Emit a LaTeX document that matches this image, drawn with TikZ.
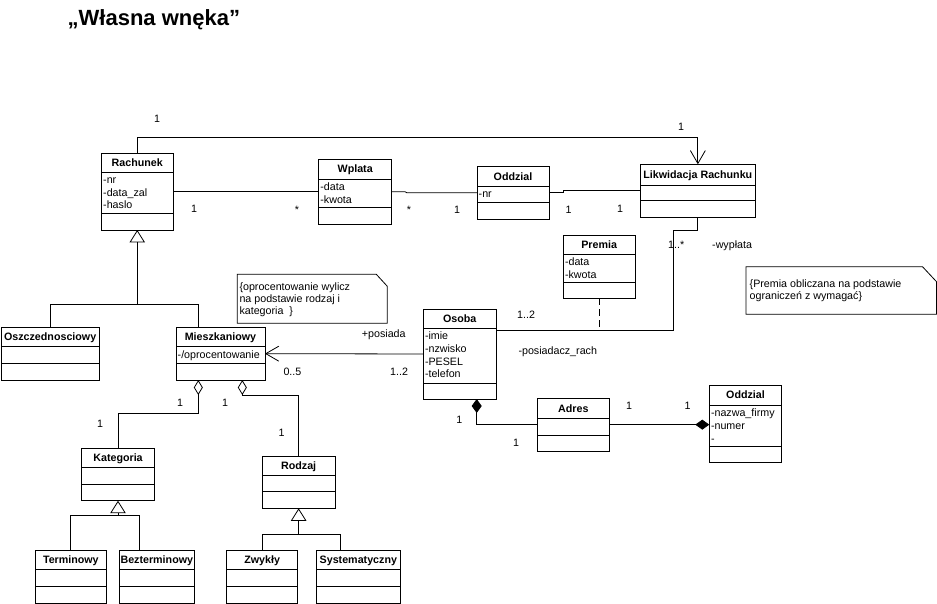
\documentclass[tikz,border=0pt]{standalone}
\usepackage{fontspec}
\setmainfont{Liberation Sans}
\usetikzlibrary{arrows.meta}
\tikzset{
  clsbox/.style={draw, line width=0.8pt, inner sep=0pt, outer sep=0pt},
  sepline/.style={line width=0.8pt},
  clsname/.style={font=\fontsize{10.7}{12.8}\selectfont\bfseries, inner sep=0pt, text height=7.6pt, text depth=0pt},
  attr/.style={font=\fontsize{10.7}{12.8}\selectfont, inner sep=0pt, anchor=base west},
  lab/.style={font=\fontsize{10.7}{12.8}\selectfont, inner sep=0pt, anchor=base},
  labw/.style={font=\fontsize{10.7}{12.8}\selectfont, inner sep=0pt, anchor=base west},
  notebox/.style={inner sep=0pt, outer sep=0pt},
  notetext/.style={font=\fontsize{10.7}{12}\selectfont, inner sep=0pt, align=left, anchor=west},
  conn/.style={line width=0.8pt},
  openarr/.style={conn, -{Straight Barb[length=13pt,width=15pt]}},
  gentri/.style={conn, -{Triangle[open,length=12.5pt,width=15.5pt]}},
  aggr/.style={conn, -{Diamond[open,length=15pt,width=9pt]}},
  compo/.style={conn, -{Diamond[length=14pt,width=10pt]}},
}
\newcommand\umlcls[8]{%
  \node[clsbox, anchor=north west, minimum width={(#4-#2)*1pt}, minimum height={(#7-#3)*1pt}] (#1) at (#2,#3) {};
  \draw[sepline] (#2,#5) -- (#4,#5);
  \draw[sepline] (#2,#6) -- (#4,#6);
  \node[clsname] (#1-t) at ({(#2+#4)/2},{(#3+#5)/2}) {#8};
}
\newcommand\umlattrs[4]{%
  \foreach \a [count=\i] in {#4} {\node[attr] (#1-a\i) at ({#2+1.5},{#3+(\i-1)*12.6}) {\a};}
}
\begin{document}
\begin{tikzpicture}[x=1pt, y=-1pt]
\useasboundingbox (0,0) rectangle (937,604);

% title
\node[font=\fontsize{22}{26}\selectfont\bfseries, anchor=base west, inner sep=0pt] (title) at (67.5,26) {„Własna wnęka”};

% classes
\umlcls{rach}{101.5}{153}{173}{172}{213}{230}{Rachunek}
\umlattrs{rach}{101.5}{183.5}{-nr,-data\_zal,-haslo}
\umlcls{wpl}{318.7}{159.3}{391.7}{179}{207.3}{224.3}{Wplata}
\umlattrs{wpl}{318.7}{190.5}{-data,-kwota}
\umlcls{odd1}{477}{166.7}{549}{186}{202.7}{219}{Oddzial}
\umlattrs{odd1}{477}{197.5}{-nr}
\umlcls{lik}{640}{164.3}{755.7}{185}{200.7}{217.3}{Likwidacja Rachunku}
\umlcls{prem}{563.3}{235}{635}{254}{282.3}{298.3}{Premia}
\umlattrs{prem}{563.3}{265.5}{-data,-kwota}
\umlcls{osoba}{423.3}{309}{496}{328.3}{383.3}{399}{Osoba}
\umlattrs{osoba}{423.3}{339.8}{-imie,-nzwisko,-PESEL,-telefon}
\umlcls{osz}{1}{327.3}{99.3}{346.7}{363.3}{380}{Oszczednosciowy}
\umlcls{mies}{176}{327.3}{265}{346.7}{363.3}{380}{Mieszkaniowy}
\umlattrs{mies}{176}{358}{-/oprocentowanie}
\umlcls{kat}{81.7}{448.3}{154.3}{467.3}{484}{500.7}{Kategoria}
\umlcls{rodz}{262.3}{456}{335}{475}{491.7}{508.3}{Rodzaj}
\umlcls{term}{35}{550.7}{106.7}{569.3}{586.7}{603.3}{Terminowy}
\umlcls{bez}{119.3}{550.7}{194.3}{569.3}{586.7}{603.3}{Bezterminowy}
\umlcls{zwyk}{226.7}{550.7}{297.7}{569.3}{586.7}{603.3}{Zwykły}
\umlcls{syst}{316.7}{550.7}{400}{569.3}{586.7}{603.3}{Systematyczny}
\umlcls{adres}{537.3}{398.3}{609.3}{418.3}{435}{451}{Adres}
\umlcls{odd2}{709.3}{385}{781.7}{405}{446}{462.3}{Oddzial}
\umlattrs{odd2}{709.3}{416.8}{-nazwa\_firmy,-numer,-}

% notes
\node[notebox, anchor=north west, minimum width=150pt, minimum height=49pt] (n1) at (237.3,274.3) {};
\draw[conn] (n1.north west) -- ([xshift=-11pt]n1.north east) -- ([yshift=-12pt]n1.north east) -- (n1.south east) -- (n1.south west) -- cycle;
\node[notetext] (n1t) at ([xshift=2pt]n1.west) {\rule{0pt}{9pt}\{oprocentowanie wylicz\\na podstawie rodzaj i\\kategoria\ \ \}};
\node[notebox, anchor=north west, minimum width=190.5pt, minimum height=47.6pt] (n2) at (746,266.7) {};
\draw[conn] (n2.north west) -- ([xshift=-14pt]n2.north east) -- ([yshift=-15pt]n2.north east) -- (n2.south east) -- (n2.south west) -- cycle;
\node[notetext] (n2t) at ([xshift=3.5pt]n2.west) {\rule{0pt}{9pt}\{Premia obliczana na podstawie\\ograniczeń z wymagać\}};

% connectors
\draw[openarr] (rach.north) |- ([yshift=27.3pt]lik.north) -- (lik.north);
\draw[conn] (rach.east) -- (rach.east -| wpl.west);
\draw[conn] (wpl.east) -- ++(13.5,0) -- ([xshift=-70pt]odd1.west) -- (odd1.west);
\draw[conn] (odd1.east) -- ++(14,0) -- ([xshift=-77pt]lik.west) -- (lik.west);
\coordinate (oline) at ([yshift=-21.5pt]osoba.north east);
\draw[conn] (lik.south) |- ++(-24.5,13.4) |- (oline);
\draw[conn, dash pattern=on 7pt off 4pt] (prem.south) -- (prem.south |- oline);
\draw[openarr] (osoba.west) -- (mies.east);
% generalization Rachunek
\draw[conn] (osz.north) -- ++(0,-23.3) -| ([xshift=22.3pt]mies.north west);
\draw[gentri] (rach.south |- 0,304) -- (rach.south);
% aggregations
\draw[aggr] (kat.north) |- ([xshift=22.3pt, yshift=-33.3pt]mies.south west) -- ([xshift=22.3pt]mies.south west);
\draw[aggr] (rodz.north) |- ([xshift=66.3pt, yshift=-15pt]mies.south west) -- ([xshift=66.3pt]mies.south west);
% generalization Kategoria
\draw[conn] (term.north) |- ([xshift=20pt, yshift=35.7pt]bez.north west) -- ([xshift=20pt]bez.north west);
\draw[gentri] (kat.south |- 0,514.5) -- (kat.south);
% generalization Rodzaj
\draw[conn] (zwyk.north) |- ([xshift=23.3pt, yshift=16.7pt]syst.north west) -- ([xshift=23.3pt]syst.north west);
\draw[gentri] (rodz.south |- 0,534) -- (rodz.south);
% compositions
\draw[compo] (adres.west) -| ([xshift=53.4pt]osoba.south west);
\draw[compo] (adres.east) -- (adres.east -| odd2.west);

% labels
\node[lab] (l1) at (157,123) {1};
\node[lab] (l2) at (681,130.5) {1};
\node[lab] (l3) at (194,213) {1};
\node[lab] (l4) at (297,213.5) {*};
\node[lab] (l5) at (409,214) {*};
\node[lab] (l6) at (457,214) {1};
\node[lab] (l7) at (568.5,214) {1};
\node[lab] (l8) at (620,213) {1};
\node[labw] (l9) at (668,248) {1..*};
\node[labw] (l10) at (712,248) {-wypłata};
\node[labw] (l11) at (517,318) {1..2};
\node[labw] (l12) at (518.3,354.5) {-posiadacz\_rach};
\node[labw] (l13) at (361.7,337.5) {+posiada};
\node[labw] (l14) at (283.3,375.5) {0..5};
\node[labw] (l15) at (390,375.5) {1..2};
\node[lab] (l16) at (180,406.5) {1};
\node[lab] (l17) at (225,406.5) {1};
\node[lab] (l18) at (100,427) {1};
\node[lab] (l19) at (281.7,436) {1};
\node[lab] (l20) at (459.3,423) {1};
\node[lab] (l21) at (516,446.5) {1};
\node[lab] (l22) at (629,409) {1};
\node[lab] (l23) at (687.7,409) {1};
\end{tikzpicture}
\end{document}
